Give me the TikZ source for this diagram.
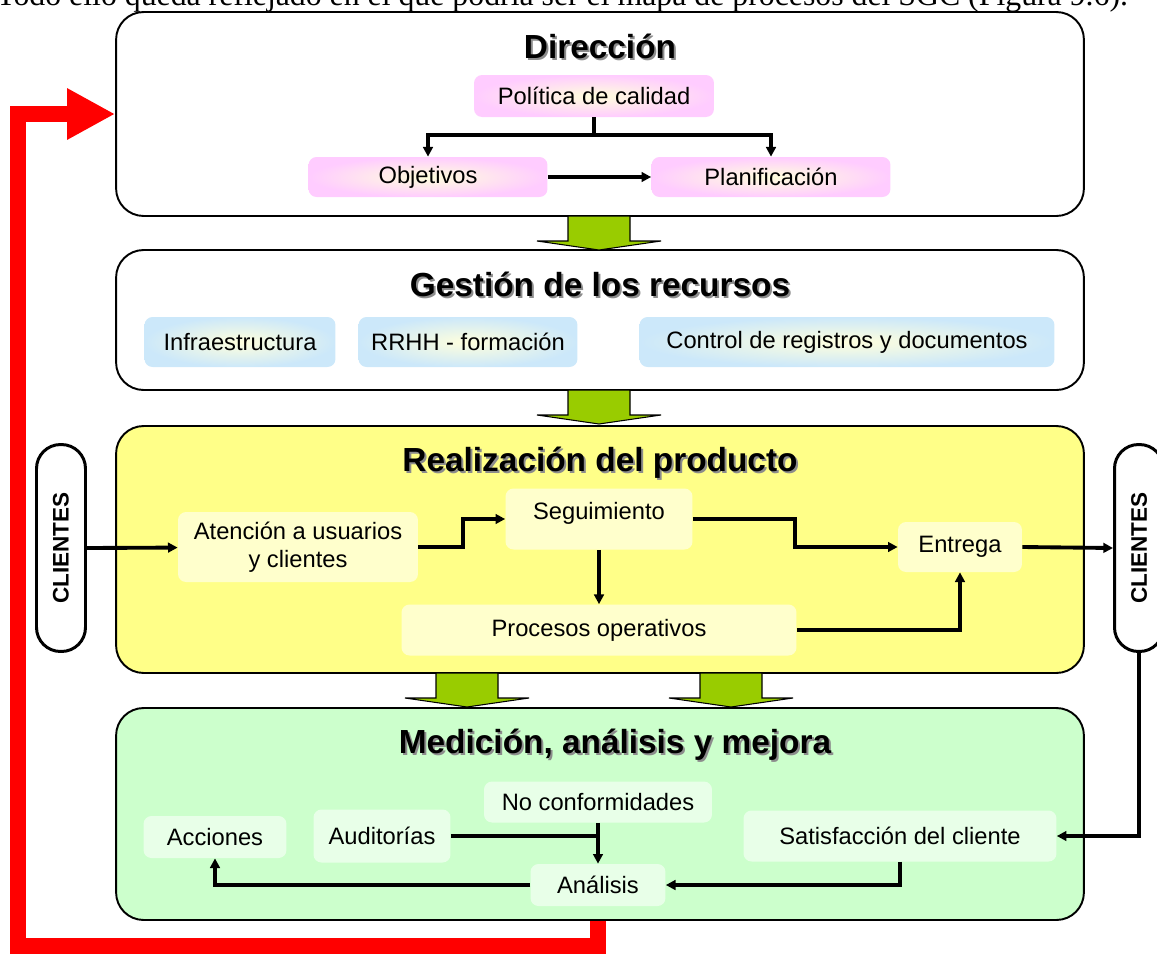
\documentclass[tikz,border=0pt]{standalone}
\usepackage{fontspec}
\setmainfont{Liberation Sans}
\newfontfamily\textoserif{Liberation Serif}
\usetikzlibrary{arrows.meta}

\definecolor{rosa}{HTML}{FFCCFF}
\definecolor{celeste}{HTML}{CCE8FA}
\definecolor{crema}{HTML}{FFFFDD}
\definecolor{amarillo}{HTML}{FFFF88}
\definecolor{amarilloclaro}{HTML}{FFFFCC}
\definecolor{verde}{HTML}{CCFFCC}
\definecolor{verdeclaro}{HTML}{E8FFE8}
\definecolor{oliva}{HTML}{99CC00}

\tikzset{
  bloque/.style={draw, line width=1.1pt, rounded corners=0.55cm, minimum width=19.36cm},
  caja/.style={rounded corners=0.16cm, align=center, inner sep=0pt, font=\fontsize{13.5}{16}\selectfont},
  cajarosa/.style={caja, inner color=crema, outer color=rosa},
  cajaceleste/.style={caja, inner color=crema, outer color=celeste},
  cajaamarilla/.style={caja, fill=amarilloclaro},
  cajaverde/.style={caja, fill=verdeclaro},
  titulo/.style={font=\fontsize{19}{22}\selectfont\bfseries},
  pastilla/.style={draw, line width=1.7pt, fill=white, rotate=90, minimum width=4.14cm, minimum height=0.98cm, rounded corners=0.48cm, font=\fontsize{12.8}{15}\selectfont\bfseries},
  flecha/.style={line width=2.2pt, -{Triangle[length=5.5pt, width=5.5pt]}},
  linea/.style={line width=2.2pt},
  flechaverde/.style={draw=black, line width=0.6pt, fill=oliva},
  roja/.style={draw=red, line width=0.32cm, -{Triangle[length=0.96cm, width=0.96cm]}}
}

\begin{document}
\begin{tikzpicture}[x=0.02cm, y=-0.02cm]
    \useasboundingbox (0,0) rectangle (1157,954);

    \node[anchor=base west, inner sep=0pt, font=\textoserif\fontsize{18.1}{21}\selectfont] (encabezado) at (-4,5)
        {Todo ello queda reflejado en el que podría ser el mapa de procesos del SGC (Figura 9.6).};

    % bloques
    \node[bloque, minimum height=4.08cm] (direccion) at (600,114) {};
    \node[bloque, minimum height=2.8cm] (gestion) at (600,320) {};
    \node[bloque, fill=amarillo, minimum height=4.94cm] (realizacion) at (600,549.5) {};
    \node[bloque, fill=verde, minimum height=4.24cm] (medicion) at (600,814) {};

    \foreach \cx/\ty in {599/216, 599/390, 467/673, 731/673}
        \draw[flechaverde] (\cx-31,\ty) -- ++(62,0) -- ++(0,25) -- ++(31,0) -- (\cx,\ty+34) -- (\cx-62,\ty+25) -- ++(31,0) -- cycle;

    \foreach \nombre/\cx/\cy/\texto in {tdir/600/46/Dirección, tges/600/284/Gestión de los recursos, treal/600/463/Realización del producto, tmed/615/745/{Medición, análisis y mejora}} {
        \node[titulo, text=black!45] at (\cx+2,\cy+2) {\texto};
        \node[titulo] (\nombre) at (\cx,\cy) {\texto};
    }

    % Direccion
    \node[cajarosa, minimum width=4.8cm, minimum height=0.84cm] (politica) at (594,96) {Política de calidad};
    \node[cajarosa, minimum width=4.78cm, minimum height=0.8cm] (objetivos) at (428,177) {Objetivos};
    \node[cajarosa, minimum width=4.78cm, minimum height=0.8cm] (planificacion) at (771,177) {Planificación};

    \draw[flecha] (politica.south) -- ++(0,18) -| (objetivos.north);
    \draw[flecha] (politica.south) -- ++(0,18) -| (planificacion.north);
    \draw[flecha] (objetivos) -- (planificacion);

    % Gestion de los recursos
    \node[cajaceleste, minimum width=3.82cm, minimum height=1cm] (infra) at (240,342) {Infraestructura};
    \node[cajaceleste, minimum width=4.38cm, minimum height=1cm] (rrhh) at (468,342) {RRHH - formación};
    \node[cajaceleste, minimum width=8.3cm, minimum height=1cm] (control) at (847,342) {Control de registros y documentos};

    % Realizacion del producto
    \node[pastilla] (clientesizq) at (61,548) {CLIENTES};
    \node[pastilla] (clientesder) at (1139,548) {CLIENTES};
    \node[cajaamarilla, minimum width=4.8cm, minimum height=1.4cm] (atencion) at (298,547) {Atención a usuarios\\y clientes};
    \node[cajaamarilla, minimum width=3.74cm, minimum height=1.22cm, text depth=0.33cm] (seguimiento) at (599,519) {Seguimiento};
    \node[cajaamarilla, minimum width=2.48cm, minimum height=1cm] (entrega) at (960,547) {Entrega};
    \node[cajaamarilla, minimum width=7.9cm, minimum height=1.02cm] (procesos) at (599,630) {Procesos operativos};

    \draw[flecha] (clientesizq.south) -- (atencion);
    \draw[flecha] (atencion.east) -- ++(45,0) |- (seguimiento.west);
    \draw[flecha] (seguimiento.east) -- ++(102,0) |- (entrega.west);
    \draw[flecha] (seguimiento.south) -- (procesos.north);
    \draw[flecha] (procesos.east) -| (entrega.south);
    \draw[flecha] (entrega.east) -- (clientesder.north);

    % Medicion, analisis y mejora
    \node[cajaverde, minimum width=4.56cm, minimum height=0.82cm] (noconformidades) at (598,802) {No conformidades};
    \node[cajaverde, minimum width=2.74cm, minimum height=1.06cm] (auditorias) at (382,836) {Auditorías};
    \node[cajaverde, minimum width=2.86cm, minimum height=0.84cm] (acciones) at (215,837) {Acciones};
    \node[cajaverde, minimum width=6.26cm, minimum height=1.02cm] (satisfaccion) at (900,836) {Satisfacción del cliente};
    \node[cajaverde, minimum width=2.7cm, minimum height=0.84cm] (analisis) at (598,885) {Análisis};

    \draw[flecha] (clientesder.west) |- (satisfaccion.east);
    \draw[flecha] (noconformidades.south) -- (analisis.north);
    \draw[linea] (auditorias.east) -- (auditorias.east -| noconformidades.south);
    \draw[flecha] (satisfaccion.south) |- (analisis.east);
    \draw[flecha] (analisis.west) -| (acciones.south);

    % retorno
    \coordinate (retorno) at (18,946);
    \draw[roja] (analisis |- medicion.south) |- (retorno) |- (direccion.west);
\end{tikzpicture}
\end{document}
